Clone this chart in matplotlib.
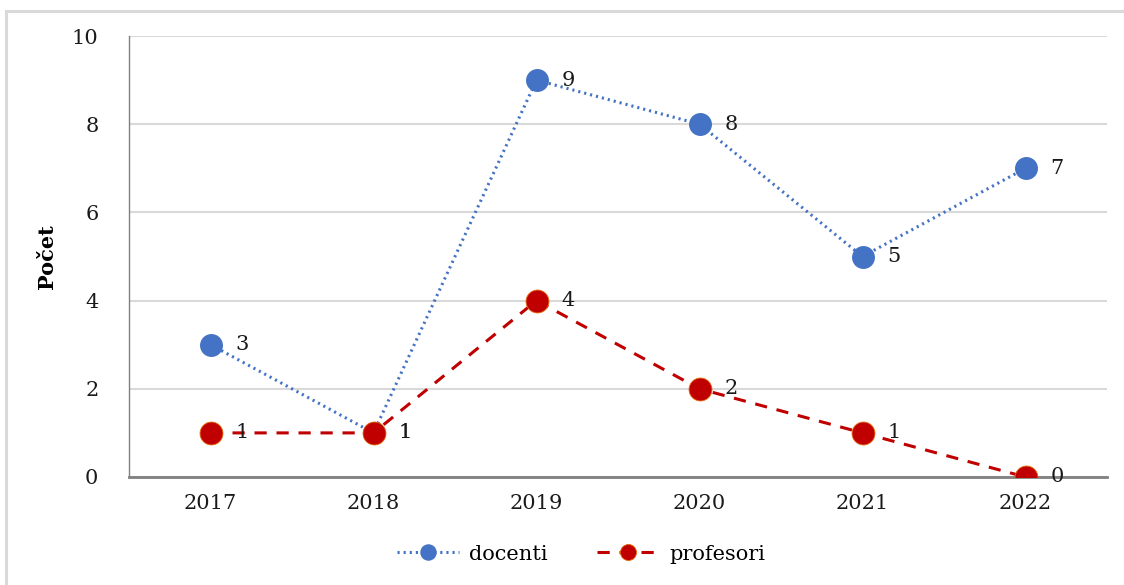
import matplotlib.pyplot as plt
from matplotlib.patches import Rectangle

years = ['2017', '2018', '2019', '2020', '2021', '2022']
docenti = [3, 1, 9, 8, 5, 7]
profesori = [1, 1, 4, 2, 1, 0]

plt.rcParams['font.family'] = ['DejaVu Serif']
fs = 15

fig = plt.figure(figsize=(11.24, 5.85), dpi=100)
ax = fig.add_axes([129/1124, 1-477/585, (1107-129)/1124, (477-36)/585])

# outer chart border
fig.patches.append(Rectangle((6/1124, -0.1), 1.2, 1.1-11/585, transform=fig.transFigure,
                             fill=False, edgecolor='#d9d9d9', linewidth=2.2, zorder=0))

x = range(len(years))
ax.plot(x, docenti, color='#4472C4', linestyle=(0, (0.7, 1.3)), linewidth=2.2,
        marker='o', markersize=15.5, markerfacecolor='#4472C4', markeredgecolor='#4472C4',
        label='docenti', zorder=3)
ax.plot(x, profesori, color='#C00000', linestyle=(0, (4, 3.2)), linewidth=2.2,
        marker='o', markersize=16.5, markerfacecolor='#C00000', markeredgecolor='#E46C0A',
        markeredgewidth=0.6, label='profesori', zorder=3)

for i, v in enumerate(docenti):
    ax.annotate(str(v), (i, v), xytext=(18, 0), textcoords='offset points',
                va='center', ha='left', fontsize=fs, color='#1a1a1a', zorder=4)
for i, v in enumerate(profesori):
    ax.annotate(str(v), (i, v), xytext=(18, 0), textcoords='offset points',
                va='center', ha='left', fontsize=fs, color='#1a1a1a', zorder=4)

ax.set_xlim(-0.5, 5.5)
ax.set_ylim(0, 10)
ax.set_yticks([0, 2, 4, 6, 8, 10])
ax.set_xticks(list(x))
ax.set_xticklabels(years)
ax.tick_params(axis='both', length=0, labelsize=fs, colors='#1a1a1a')
ax.tick_params(axis='y', pad=22)
ax.tick_params(axis='x', pad=12)
ax.grid(axis='y', color='#d9d9d9', linewidth=1.5)
ax.set_axisbelow(True)

for s in ['top', 'right']:
    ax.spines[s].set_visible(False)
ax.spines['left'].set_color('#808080')
ax.spines['left'].set_linewidth(1.0)
ax.spines['bottom'].set_color('#808080')
ax.spines['bottom'].set_linewidth(2.0)

ax.set_ylabel('Počet', fontsize=fs, fontweight='bold')
ax.yaxis.set_label_coords(-72/978, 0.5)

ax.legend(loc='center', bbox_to_anchor=(0.462, -0.175), ncol=2, frameon=False,
          fontsize=fs, handlelength=3.0, columnspacing=2.4, handletextpad=0.45,
          markerscale=0.7)

fig.savefig('out.png', dpi=100)
